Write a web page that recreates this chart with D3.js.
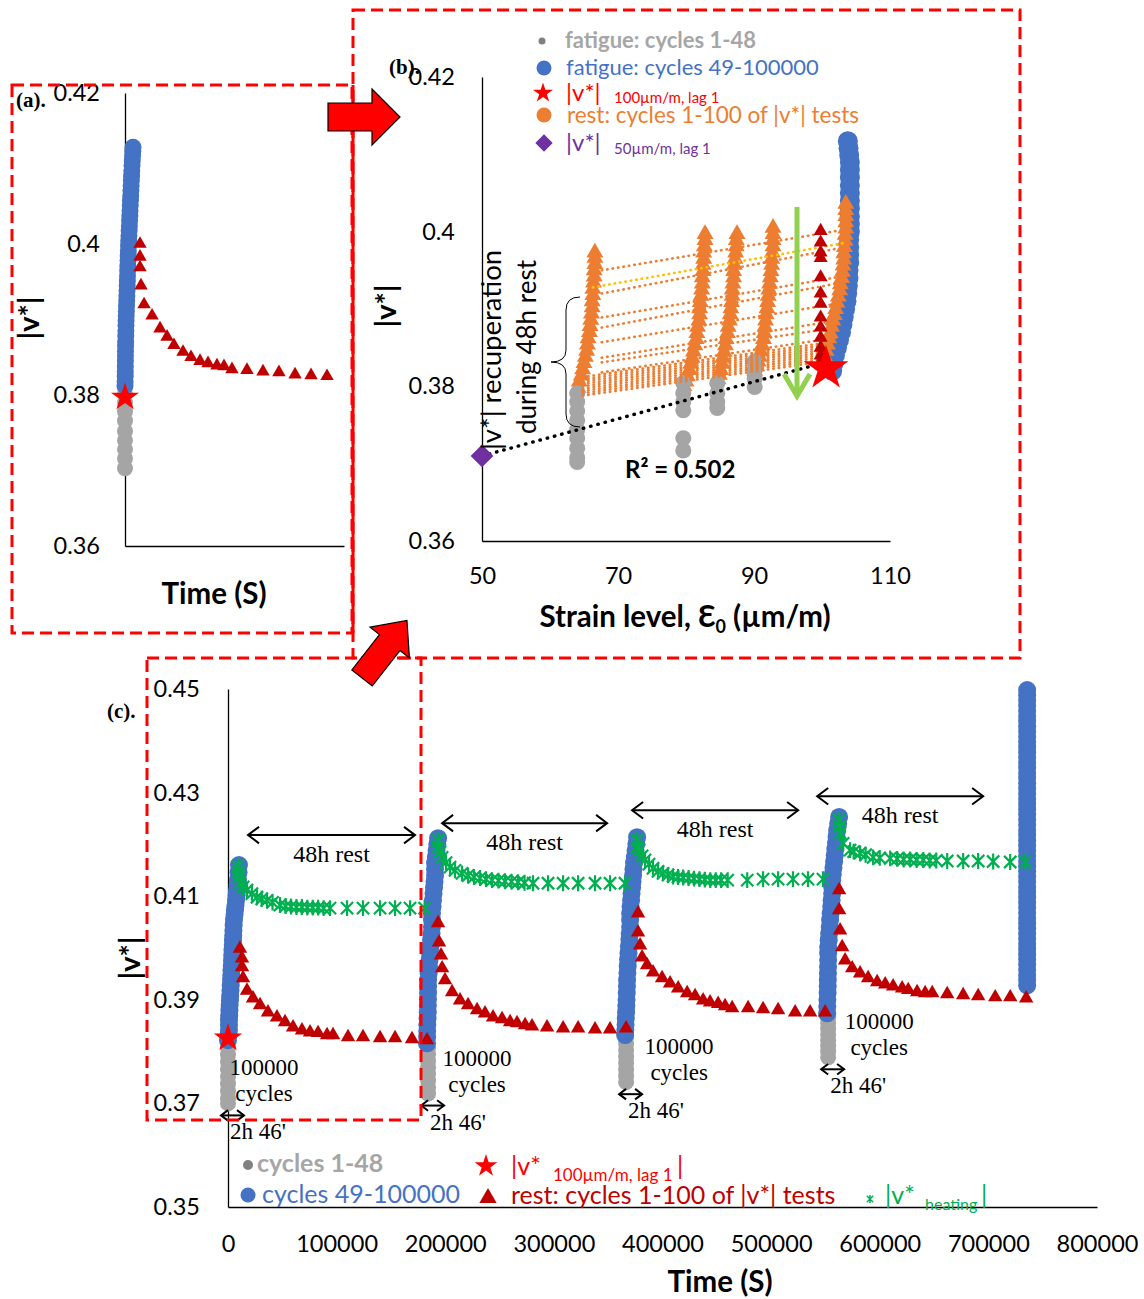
<!DOCTYPE html>
<html><head><meta charset="utf-8">
<script src="https://cdn.jsdelivr.net/npm/d3@7"></script>
<style>body{margin:0;background:#fff}svg{display:block}</style>
</head><body>
<svg id="fig" width="1144" height="1299"></svg>
<script>
// ================= DATA =================
// ---- Panel (a): zoom of first fatigue/rest cycle ----
const aTicksY = [0.36, 0.38, 0.40, 0.42];
const aTickLabelsY = ["0.36", "0.38", "0.4", "0.42"];
const aGray = [[0,0.3838],[0,0.3826],[0,0.3814],[0,0.3802],[0,0.3790],[0,0.3778],[0,0.3766],[0,0.3752],[0,0.3740],[0,0.3728],[0,0.3716],[0,0.3703]];
const aBlue = [[0,0.3812],[100,0.3818],[200,0.3825],[250,0.3831],[300,0.3838],[350,0.3845],[400,0.3852],[450,0.3858],[500,0.3865],[600,0.3871],[700,0.3878],[800,0.3885],[900,0.3892],[1000,0.3898],[1100,0.3905],[1250,0.3911],[1400,0.3918],[1550,0.3925],[1700,0.3931],[1850,0.3938],[2000,0.3945],[2150,0.3951],[2300,0.3958],[2450,0.3965],[2600,0.3971],[2750,0.3978],[2900,0.3984],[3050,0.3991],[3200,0.3998],[3400,0.4004],[3600,0.4011],[3800,0.4018],[4000,0.4024],[4200,0.4031],[4400,0.4037],[4600,0.4044],[4800,0.4051],[5000,0.4058],[5200,0.4064],[5400,0.4071],[5600,0.4077],[5800,0.4084],[6000,0.4090],[6200,0.4097],[6400,0.4104],[6650,0.4110],[6900,0.4117],[7100,0.4123],[7300,0.4128]];
const aStar = [[0,0.3797]];
const aRest = [[13700,0.4000],[13700,0.3983],[13700,0.3969],[14600,0.3945],[17400,0.3920],[24700,0.3905],[32000,0.3888],[38400,0.3877],[44700,0.3866],[53000,0.3857],[60300,0.3850],[68500,0.3845],[75800,0.3842],[84000,0.3839],[90400,0.3838],[97700,0.3834],[111400,0.3833],[126000,0.3831],[140600,0.3830],[155300,0.3827],[169900,0.3826],[184500,0.3825]];

// ---- Panel (b): |v*| versus strain level ----
const bTicksX = [50, 70, 90, 110];
const bTickLabelsX = ["50", "70", "90", "110"];
const bTicksY = [0.36, 0.38, 0.40, 0.42];
const bTickLabelsY = ["0.36", "0.38", "0.4", "0.42"];
const bGray = [[64,0.3791],[64,0.3780],[64,0.3768],[64,0.3756],[64,0.3744],[64,0.3733],[64,0.3720],[64,0.3708],[64,0.3702],
  [79.6,0.3804],[79.6,0.3791],[79.6,0.3780],[79.6,0.3769],[79.6,0.3733],[79.6,0.3717],
  [84.6,0.3804],[84.6,0.3791],[84.6,0.3780],[84.6,0.3772],
  [90.1,0.3832],[90.1,0.3821],[90.1,0.3810],[90.1,0.3799]];
const bBlue = [[103.8,0.4117],[103.9,0.4108],[104.0,0.4099],[104.1,0.4090],[104.1,0.4080],[104.1,0.4070],[104.1,0.4060],[104.1,0.4050],[104.1,0.4040],[104.1,0.4030],[104.1,0.4020],[104.1,0.4010],[104.1,0.4000],[104.0,0.3990],[104.0,0.3980],[104.0,0.3970],[104.0,0.3960],[103.9,0.3950],[103.9,0.3940],[103.8,0.3930],[103.7,0.3920],[103.6,0.3910],[103.4,0.3900],[103.2,0.3890],[103.0,0.3880],[102.8,0.3870],[102.5,0.3860],[102.2,0.3850],[101.9,0.3840],[101.7,0.3830],[101.5,0.3820]];
const bOrange1 = [[66.6,0.3973],[66.6,0.3966],[66.6,0.3958],[66.5,0.3950],[66.5,0.3942],[66.4,0.3934],[66.3,0.3926],[66.3,0.3918],[66.2,0.3910],[66.2,0.3902],[66.1,0.3894],[66.0,0.3886],[65.9,0.3878],[65.8,0.3870],[65.6,0.3862],[65.5,0.3854],[65.4,0.3846],[65.2,0.3838],[65.0,0.3830],[64.8,0.3822],[64.6,0.3814],[64.3,0.3806],[64.1,0.3798]];
const bOrange2 = [[82.8,0.3997],[82.8,0.3989],[82.7,0.3981],[82.6,0.3973],[82.6,0.3965],[82.5,0.3957],[82.5,0.3949],[82.4,0.3941],[82.4,0.3933],[82.3,0.3925],[82.2,0.3917],[82.1,0.3909],[82.0,0.3901],[82.0,0.3893],[81.9,0.3885],[81.7,0.3877],[81.6,0.3869],[81.5,0.3861],[81.3,0.3853],[81.1,0.3845],[80.9,0.3837],[80.7,0.3829],[80.5,0.3821],[80.2,0.3813],[80.0,0.3806],[79.7,0.3800]];
const bOrange3 = [[87.5,0.3997],[87.4,0.3989],[87.4,0.3981],[87.3,0.3973],[87.2,0.3965],[87.1,0.3957],[87.0,0.3949],[87.0,0.3941],[86.9,0.3933],[86.8,0.3925],[86.8,0.3917],[86.7,0.3909],[86.6,0.3901],[86.5,0.3893],[86.4,0.3885],[86.2,0.3877],[86.1,0.3869],[85.9,0.3861],[85.8,0.3853],[85.6,0.3845],[85.4,0.3837],[85.3,0.3829],[85.1,0.3821],[84.9,0.3815],[84.7,0.3809]];
const bOrange4 = [[92.8,0.4005],[92.8,0.3997],[92.8,0.3989],[92.8,0.3981],[92.7,0.3973],[92.6,0.3965],[92.6,0.3957],[92.5,0.3949],[92.4,0.3941],[92.3,0.3933],[92.2,0.3925],[92.1,0.3917],[92.0,0.3909],[91.9,0.3901],[91.8,0.3893],[91.7,0.3885],[91.6,0.3877],[91.5,0.3869],[91.4,0.3861],[91.2,0.3853],[91.0,0.3845],[90.8,0.3838],[90.6,0.3832],[90.4,0.3826],[90.1,0.3820]];
const bOrange5 = [[103.5,0.4036],[103.5,0.4028],[103.5,0.4020],[103.5,0.4012],[103.5,0.4004],[103.4,0.3996],[103.4,0.3988],[103.3,0.3980],[103.2,0.3972],[103.2,0.3964],[103.1,0.3956],[103.0,0.3948],[102.9,0.3940],[102.7,0.3932],[102.6,0.3924],[102.4,0.3916],[102.2,0.3908],[102.0,0.3900],[101.8,0.3892],[101.6,0.3885],[101.4,0.3877],[101.2,0.3869],[101.0,0.3862],[100.8,0.3854],[100.6,0.3846],[100.4,0.3838],[100.1,0.3830]];
const bRest = [[99.8,0.4001],[99.8,0.3986],[99.8,0.3973],[99.8,0.3966],[99.8,0.3941],[99.8,0.3920],[99.8,0.3907],[99.8,0.3889],[99.8,0.3876],[99.8,0.3863],[99.8,0.3850],[99.8,0.3840],[99.8,0.3832]];
const bStar = [[100.6,0.3823]];
const bDiamond = [[50,0.3710]];
const bTrend = [[50,0.3710],[100,0.3830]];
const bRestLineStrainUpper = [67.6, 102.2];
const bRestLinesUpper = [[0.3950,0.4001],[0.3920,0.3978],[0.3889,0.3941],[0.3876,0.3933],[0.3857,0.3907],[0.3837,0.3885],[0.3831,0.3876],[0.3818,0.3863]];
const bYellowLine = [[66.3,0.3928],[103.7,0.3986]];
const bRestLineStrainLower = [64.8, 100.3];
const bRestLinesLower = [[0.3812,0.3856],[0.3809,0.3853],[0.3806,0.3850],[0.3803,0.3847],[0.3800,0.3844],[0.3797,0.3841],[0.3794,0.3838],[0.3791,0.3835],[0.3788,0.3832]];
const bR2 = "R² = 0.502";

// ---- Panel (c): |v*| versus time, 4 fatigue cycles + rests ----
const cTicksX = [0,100000,200000,300000,400000,500000,600000,700000,800000];
const cTickLabelsX = ["0","100000","200000","300000","400000","500000","600000","700000","800000"];
const cTicksY = [0.35,0.37,0.39,0.41,0.43,0.45];
const cTickLabelsY = ["0.35","0.37","0.39","0.41","0.43","0.45"];
const cCycleStart = [0, 184200, 366500, 552500];
const cGray = [
  [0,0.3822],[0,0.3808],[0,0.3794],[0,0.3780],[0,0.3766],[0,0.3752],[0,0.3738],[0,0.3724],[0,0.3710],[0,0.3700],
  [184200,0.3808],[184200,0.3795],[184200,0.3782],[184200,0.3770],[184200,0.3757],[184200,0.3744],[184200,0.3731],[184200,0.3719],
  [366500,0.3828],[366500,0.3815],[366500,0.3803],[366500,0.3790],[366500,0.3778],[366500,0.3765],[366500,0.3753],[366500,0.3741],
  [552500,0.3866],[552500,0.3855],[552500,0.3844],[552500,0.3833],[552500,0.3822],[552500,0.3811],[552500,0.3800],[552500,0.3789]];
const cBlue1 = [[0,0.3822],[500,0.3832],[900,0.3842],[900,0.3852],[900,0.3861],[1100,0.3870],[1300,0.3880],[1500,0.3890],[1800,0.3899],[2000,0.3908],[2300,0.3918],[2500,0.3928],[2800,0.3938],[3000,0.3948],[3200,0.3957],[3500,0.3966],[3700,0.3976],[3900,0.3986],[4100,0.3996],[4400,0.4006],[4600,0.4015],[4800,0.4024],[5000,0.4034],[5200,0.4044],[5500,0.4054],[6000,0.4064],[6400,0.4073],[6900,0.4082],[7400,0.4092],[7900,0.4102],[8300,0.4112],[8800,0.4122],[9200,0.4131],[9700,0.4146],[10100,0.4160]];
const cBlue2 = [[183200,0.3816],[183300,0.3828],[183400,0.3840],[183500,0.3852],[183700,0.3864],[183900,0.3876],[184000,0.3889],[184100,0.3901],[184200,0.3913],[184200,0.3926],[184200,0.3938],[184700,0.3951],[185100,0.3964],[185500,0.3977],[186000,0.3990],[186400,0.4003],[186900,0.4016],[187400,0.4028],[187800,0.4041],[187800,0.4054],[187800,0.4067],[188300,0.4080],[188700,0.4092],[189200,0.4105],[189700,0.4117],[190100,0.4128],[190600,0.4140],[190600,0.4152],[190600,0.4164],[191300,0.4176],[192000,0.4188],[192700,0.4200],[193400,0.4212]];
const cBlue3 = [[365600,0.3832],[365800,0.3842],[366000,0.3852],[366200,0.3864],[366500,0.3876],[366700,0.3888],[366900,0.3900],[367100,0.3913],[367300,0.3926],[367400,0.3938],[367700,0.3952],[368000,0.3965],[368300,0.3978],[368700,0.3990],[369100,0.4003],[369500,0.4016],[369800,0.4028],[370200,0.4041],[370200,0.4054],[370200,0.4067],[370600,0.4080],[371100,0.4092],[371500,0.4105],[372000,0.4117],[372400,0.4128],[372900,0.4140],[373300,0.4152],[373800,0.4164],[374500,0.4176],[375200,0.4188],[375900,0.4201],[376600,0.4214]];
const cBlue4 = [[551600,0.3874],[551700,0.3887],[551800,0.3900],[552000,0.3913],[552100,0.3926],[552200,0.3938],[552300,0.3951],[552400,0.3964],[552500,0.3977],[552500,0.3990],[552500,0.4002],[553000,0.4015],[553400,0.4028],[553900,0.4041],[554300,0.4054],[554800,0.4067],[555300,0.4080],[555700,0.4092],[556200,0.4105],[556200,0.4118],[556200,0.4131],[556800,0.4143],[557400,0.4155],[558000,0.4167],[558600,0.4179],[559100,0.4191],[559700,0.4203],[560200,0.4215],[560800,0.4227],[561700,0.4240],[562600,0.4253]];
const cBlueFinal = [[735700,0.3928],[735700,0.3938],[735700,0.3948],[735700,0.3958],[735700,0.3968],[735700,0.3978],[735700,0.3988],[735700,0.3998],[735700,0.4008],[735700,0.4018],[735700,0.4028],[735700,0.4038],[735700,0.4048],[735700,0.4058],[735700,0.4068],[735700,0.4078],[735700,0.4088],[735700,0.4098],[735700,0.4108],[735700,0.4118],[735700,0.4128],[735700,0.4138],[735700,0.4148],[735700,0.4158],[735700,0.4168],[735700,0.4178],[735700,0.4188],[735700,0.4198],[735700,0.4208],[735700,0.4218],[735700,0.4228],[735700,0.4238],[735700,0.4248],[735700,0.4258],[735700,0.4268],[735700,0.4278],[735700,0.4288],[735700,0.4298],[735700,0.4308],[735700,0.4318],[735700,0.4328],[735700,0.4338],[735700,0.4348],[735700,0.4358],[735700,0.4368],[735700,0.4378],[735700,0.4388],[735700,0.4398],[735700,0.4408],[735700,0.4418],[735700,0.4428],[735700,0.4438],[735700,0.4448],[735700,0.4458],[735700,0.4468],[735700,0.4478],[735700,0.4488],[735700,0.4498]];
const cRest = [
  [11000,0.3999],[12900,0.3980],[12900,0.3963],[13800,0.3942],[17500,0.3918],[23000,0.3903],[29500,0.3890],[36800,0.3876],[45100,0.3866],[52500,0.3857],[59900,0.3847],[68100,0.3841],[75500,0.3837],[82900,0.3836],[91200,0.3832],[96700,0.3832],[110500,0.3828],[124300,0.3828],[140000,0.3826],[153800,0.3826],[169400,0.3824],[183200,0.3822],
  [193400,0.4048],[194300,0.4011],[196100,0.3986],[197100,0.3961],[199800,0.3938],[206300,0.3915],[213600,0.3899],[221000,0.3890],[229300,0.3880],[236600,0.3874],[244000,0.3866],[252300,0.3863],[259700,0.3857],[266100,0.3855],[273500,0.3851],[279900,0.3849],[293700,0.3847],[308500,0.3845],[322300,0.3845],[337900,0.3843],[351700,0.3843],[366500,0.3845],
  [377500,0.4067],[377500,0.4030],[379400,0.4005],[381200,0.3982],[385800,0.3967],[391300,0.3953],[399600,0.3942],[407000,0.3932],[414400,0.3922],[422700,0.3913],[430000,0.3907],[437400,0.3899],[443800,0.3895],[451200,0.3892],[457600,0.3888],[464100,0.3884],[478800,0.3884],[492600,0.3882],[506400,0.3880],[522100,0.3876],[535900,0.3876],[549700,0.3876],
  [562600,0.4112],[562600,0.4073],[563500,0.4034],[565400,0.4002],[568100,0.3976],[574600,0.3961],[581900,0.3951],[589300,0.3942],[597600,0.3934],[605000,0.3930],[612300,0.3926],[620600,0.3922],[626200,0.3919],[634400,0.3915],[641800,0.3913],[648300,0.3913],[662100,0.3911],[676800,0.3909],[690600,0.3907],[706300,0.3905],[720100,0.3905],[734800,0.3903]];
const cHeat = [
  [9200,0.4158],[9600,0.4148],[10100,0.4138],[11000,0.4125],[14000,0.4118],[17500,0.4112],[22000,0.4105],[26700,0.4098],[31000,0.4095],[35900,0.4092],[41000,0.4088],[47900,0.4083],[53000,0.4081],[58000,0.4080],[63000,0.4079],[68000,0.4079],[73000,0.4078],[78000,0.4078],[83000,0.4078],[88000,0.4077],[93900,0.4077],[109600,0.4077],[124300,0.4077],[140000,0.4077],[153800,0.4077],[167600,0.4077],[181000,0.4077],
  [193400,0.4208],[193400,0.4195],[195200,0.4185],[197100,0.4175],[200700,0.4165],[204400,0.4156],[209000,0.4150],[215400,0.4144],[221000,0.4140],[226500,0.4137],[232000,0.4135],[237500,0.4133],[243000,0.4131],[249000,0.4130],[255000,0.4129],[261000,0.4128],[267000,0.4127],[273000,0.4126],[280800,0.4125],[294600,0.4125],[308500,0.4125],[322300,0.4125],[337900,0.4125],[351700,0.4125],[365500,0.4125],
  [376600,0.4208],[376600,0.4195],[378500,0.4189],[381200,0.4178],[383900,0.4170],[387600,0.4162],[391300,0.4154],[395900,0.4148],[400500,0.4144],[405100,0.4141],[409700,0.4138],[414300,0.4137],[419000,0.4136],[424000,0.4135],[429000,0.4134],[434000,0.4133],[439000,0.4132],[444000,0.4131],[449000,0.4131],[454000,0.4131],[460000,0.4131],[478000,0.4131],[492600,0.4133],[506400,0.4133],[520100,0.4133],[533900,0.4133],[547700,0.4133],
  [562600,0.4247],[562600,0.4235],[563500,0.4222],[566300,0.4202],[572700,0.4189],[576000,0.4186],[581900,0.4183],[587000,0.4180],[593900,0.4175],[600000,0.4174],[609600,0.4173],[616000,0.4172],[622000,0.4171],[628000,0.4171],[634000,0.4170],[640000,0.4170],[646000,0.4169],[652000,0.4169],[662100,0.4168],[676800,0.4168],[690600,0.4168],[704400,0.4167],[720100,0.4166],[733900,0.4166]];
const cStar = [[0,0.3826]];
const cRestSpans = [[18400,172200,0.4218],[197100,349000,0.4241],[372000,524900,0.4266],[542400,695200,0.4293]];

// ================= DRAWING =================
const SANS = "Lato, 'Open Sans', sans-serif";
const SERIF = "'Liberation Serif', 'Times New Roman', serif";
const BLUE = "#4472c4", GRAY = "#a5a5a5", ORANGE = "#ed7d31", DRED = "#c00000", RED = "#ff0000", GREEN = "#00b050", PURPLE = "#7030a0";
const svg = d3.select("#fig");
svg.append("rect").attr("width",1144).attr("height",1299).attr("fill","#fff");

const symAsterisk = { draw(ctx, size) { const s = Math.sqrt(size)/2; ctx.moveTo(-s,-s); ctx.lineTo(s,s); ctx.moveTo(-s,s); ctx.lineTo(s,-s); ctx.moveTo(0,-s*1.3); ctx.lineTo(0,s*1.3); } };
const symDiamondSq = { draw(ctx, size) { const s = Math.sqrt(size)/Math.SQRT2; ctx.moveTo(0,-s); ctx.lineTo(s,0); ctx.lineTo(0,s); ctx.lineTo(-s,0); ctx.closePath(); } };

function marks(g, data, xs, ys, type, size, fill, stroke, sw) {
  g.append("g").selectAll("path").data(data).join("path")
    .attr("transform", d => `translate(${xs(d[0])},${ys(d[1])})`)
    .attr("d", d3.symbol().type(type).size(size)())
    .attr("fill", fill).attr("stroke", stroke || "none").attr("stroke-width", sw || 0);
}
function dots(g, data, xs, ys, r, fill, stroke, sw) {
  g.append("g").selectAll("circle").data(data).join("circle")
    .attr("cx", d => xs(d[0])).attr("cy", d => ys(d[1])).attr("r", r)
    .attr("fill", fill).attr("stroke", stroke || "none").attr("stroke-width", sw || 0);
}
function styleAxis(g, size) {
  g.select(".domain").attr("stroke","#000").attr("stroke-width",1.3);
  g.selectAll("text").attr("font-family",SANS).attr("font-size",size).attr("fill","#000");
}
function txt(x, y, s, o) {
  const t = svg.append("text").attr("x",x).attr("y",y).text(s)
    .attr("font-family", o.ff || SANS).attr("font-size", o.fs || 22).attr("fill", o.fill || "#000");
  if (o.fw) t.attr("font-weight", o.fw);
  if (o.anchor) t.attr("text-anchor", o.anchor);
  return t;
}
function vlabel(x, y, s, fs) {
  svg.append("text").attr("transform",`translate(${x},${y}) rotate(-90)`).attr("text-anchor","middle").attr("dy","0.35em")
    .attr("font-family",SANS).attr("font-weight","bold").attr("font-size",fs).text(s);
}
function dblArrow(x1, x2, y, head, sw) {
  const g = svg.append("g").attr("stroke","#000").attr("stroke-width",sw).attr("fill","none");
  g.append("line").attr("x1",x1).attr("x2",x2).attr("y1",y).attr("y2",y);
  g.append("polyline").attr("points",`${x1+head},${y-head*0.75} ${x1},${y} ${x1+head},${y+head*0.75}`);
  g.append("polyline").attr("points",`${x2-head},${y-head*0.75} ${x2},${y} ${x2-head},${y+head*0.75}`);
}

// ---------- Panel (a) ----------
const xA = d3.scaleLinear().domain([0,200000]).range([125,344]);
const yA = d3.scaleLinear().domain([0.36,0.42]).range([546,93]);
const gA = svg.append("g");
gA.append("g").attr("transform","translate(125,0)")
  .call(d3.axisLeft(yA).tickValues(aTicksY).tickSize(0).tickSizeOuter(0).tickPadding(25).tickFormat((d,i)=>aTickLabelsY[i]))
  .call(g => styleAxis(g, 23.5));
gA.append("g").attr("transform","translate(0,546)")
  .call(d3.axisBottom(xA).tickValues([]).tickSizeOuter(0))
  .call(g => styleAxis(g, 23));
dots(gA, aGray, xA, yA, 8, GRAY);
dots(gA, aBlue, xA, yA, 8.5, BLUE);
marks(gA, aRest, xA, yA, d3.symbolTriangle, 78, DRED);
marks(gA, aStar, xA, yA, d3.symbolStar, 243, RED);
vlabel(29, 318, "|v*|", 29);
txt(214, 604, "Time (S)", {fw:"bold", fs:29.5, anchor:"middle"});
txt(16, 107, "(a).", {ff:SERIF, fw:"bold", fs:21});

// ---------- Panel (b) ----------
const xB = d3.scaleLinear().domain([50,110]).range([482,890]);
const yB = d3.scaleLinear().domain([0.36,0.42]).range([541,77]);
const gB = svg.append("g");
gB.append("g").attr("transform","translate(482,0)")
  .call(d3.axisLeft(yB).tickValues(bTicksY).tickSize(0).tickSizeOuter(0).tickPadding(27).tickFormat((d,i)=>bTickLabelsY[i]))
  .call(g => styleAxis(g, 23.5));
gB.append("g").attr("transform","translate(0,541)")
  .call(d3.axisBottom(xB).tickValues(bTicksX).tickSize(0).tickSizeOuter(0).tickPadding(26).tickFormat((d,i)=>bTickLabelsX[i]))
  .call(g => styleAxis(g, 23.5));
const lineB = d3.line().x(d => xB(d[0])).y(d => yB(d[1]));
dots(gB, bBlue, xB, yB, 10, BLUE);
[bOrange1,bOrange2,bOrange3,bOrange4,bOrange5].forEach(col => marks(gB, col, xB, yB, d3.symbolTriangle, 125, ORANGE));
dots(gB, bGray, xB, yB, 8, GRAY);
const gLines = gB.append("g").attr("fill","none").attr("stroke-linecap","round");
bRestLinesUpper.forEach(v => gLines.append("path").attr("d", lineB([[bRestLineStrainUpper[0],v[0]],[bRestLineStrainUpper[1],v[1]]]))
  .attr("stroke",ORANGE).attr("stroke-width",2.6).attr("stroke-dasharray","0.5 5"));
bRestLinesLower.forEach(v => gLines.append("path").attr("d", lineB([[bRestLineStrainLower[0],v[0]],[bRestLineStrainLower[1],v[1]]]))
  .attr("stroke",ORANGE).attr("stroke-width",2.6).attr("stroke-dasharray","0.5 5"));
gLines.append("path").attr("d", lineB(bYellowLine)).attr("stroke","#ffc000").attr("stroke-width",2.6).attr("stroke-dasharray","0.5 5");
gLines.append("path").attr("d", lineB(bTrend)).attr("stroke","#000").attr("stroke-width",3.4).attr("stroke-dasharray","0.5 7");
marks(gB, bRest, xB, yB, d3.symbolTriangle, 85, DRED);
marks(gB, bStar, xB, yB, d3.symbolStar, 620, RED);
marks(gB, bDiamond, xB, yB, symDiamondSq, 260, PURPLE);
// green arrow
svg.append("line").attr("x1",797).attr("x2",797).attr("y1",207).attr("y2",392).attr("stroke","#92d050").attr("stroke-width",5);
svg.append("polyline").attr("points","784,374 797,396 810,374").attr("fill","none").attr("stroke","#92d050").attr("stroke-width",5).attr("stroke-linejoin","miter");
// brace
svg.append("path").attr("d","M580,297 Q566,297 566,310 L566,350 Q566,362 551,362 Q566,362 566,374 L566,414 Q566,427 580,427")
  .attr("fill","none").attr("stroke","#000").attr("stroke-width",1);
svg.append("text").attr("transform","translate(501,350) rotate(-90)").attr("text-anchor","middle")
  .attr("font-family",SANS).attr("font-size",27.5).text("|v*| recuperation");
svg.append("text").attr("transform","translate(536,347) rotate(-90)").attr("text-anchor","middle")
  .attr("font-family",SANS).attr("font-size",26).text("during 48h rest");
txt(625, 478, bR2, {fw:"bold", fs:24});
vlabel(386, 306, "|v*|", 29);
{
  const t = txt(685, 627, "Strain level, Ɛ", {fw:"bold", fs:29.5, anchor:"middle"});
  t.append("tspan").attr("font-size",18).attr("dy",6).text("0");
  t.append("tspan").attr("dy",-6).text(" (µm/m)");
}
txt(389, 74, "(b).", {ff:SERIF, fw:"bold", fs:21});
// legend (b)
svg.append("circle").attr("cx",542).attr("cy",41).attr("r",3.5).attr("fill","#808080");
txt(565, 48, "fatigue: cycles 1-48", {fw:"bold", fs:22, fill:"#a6a6a6"});
svg.append("circle").attr("cx",544).attr("cy",68).attr("r",7.5).attr("fill",BLUE);
txt(566, 75, "fatigue: cycles 49-100000", {fs:22, fill:BLUE});
svg.append("path").attr("transform","translate(543,93)").attr("d",d3.symbol().type(d3.symbolStar).size(124)()).attr("fill",RED);
txt(566, 101, "|v*|", {fs:24, fill:RED});
txt(614, 103, "100µm/m, lag 1", {fs:15, fill:RED});
svg.append("circle").attr("cx",544).attr("cy",115).attr("r",7.5).attr("fill",ORANGE);
txt(567, 123, "rest: cycles 1-100 of |v*| tests", {fs:22.5, fill:ORANGE});
svg.append("path").attr("transform","translate(544,143)").attr("d",d3.symbol().type(symDiamondSq).size(150)()).attr("fill",PURPLE);
txt(566, 151, "|v*|", {fs:24, fill:PURPLE});
txt(614, 154, "50µm/m, lag 1", {fs:15, fill:PURPLE});

// ---------- Panel (c) ----------
const xC = d3.scaleLinear().domain([0,800000]).range([228,1097]);
const yC = d3.scaleLinear().domain([0.35,0.45]).range([1207,689]);
const gC = svg.append("g");
gC.append("g").attr("transform","translate(228,0)")
  .call(d3.axisLeft(yC).tickValues(cTicksY).tickSize(0).tickSizeOuter(0).tickPadding(28).tickFormat((d,i)=>cTickLabelsY[i]))
  .call(g => styleAxis(g, 23.5));
gC.append("g").attr("transform","translate(0,1207)")
  .call(d3.axisBottom(xC).tickValues(cTicksX).tickSize(0).tickSizeOuter(0).tickPadding(28).tickFormat((d,i)=>cTickLabelsX[i]))
  .call(g => styleAxis(g, 23.5));
dots(gC, cGray, xC, yC, 8, GRAY);
[cBlue1, cBlue2, cBlue3, cBlue4, cBlueFinal].forEach(s => dots(gC, s, xC, yC, 9, BLUE));
marks(gC, cRest, xC, yC, d3.symbolTriangle, 90, DRED);
marks(gC, cHeat, xC, yC, symAsterisk, 150, "none", GREEN, 2.2);
marks(gC, cStar, xC, yC, d3.symbolStar, 250, RED);
vlabel(130, 958, "|v*|", 29);
txt(720, 1292, "Time (S)", {fw:"bold", fs:29.5, anchor:"middle"});
txt(107, 718, "(c).", {ff:SERIF, fw:"bold", fs:21});
// rest spans
cRestSpans.forEach(s => {
  const x1 = xC(s[0]), x2 = xC(s[1]), y = yC(s[2]);
  dblArrow(x1, x2, y, 11, 2);
  txt((x1+x2)/2, y+27, "48h rest", {ff:SERIF, fs:24, anchor:"middle"});
});
// cycle notes
const noteDx = [2, 15, 19, 17];
cCycleStart.forEach((t, i) => {
  const pts = cGray.filter(d => d[0] === t);
  const yb = yC(d3.min(pts, d => d[1]));
  const x0 = xC(t);
  const cx = x0 + noteDx[i] + 34;
  txt(cx, yb - 28, "100000", {ff:SERIF, fs:23, anchor:"middle"});
  txt(cx, yb - 2, "cycles", {ff:SERIF, fs:23, anchor:"middle"});
  dblArrow(x0 - 7, x0 + 16, yb + 12, 7, 2);
  txt(x0 + 2, yb + 36, "2h 46'", {ff:SERIF, fs:23});
});
// legend (c)
svg.append("circle").attr("cx",248).attr("cy",1165).attr("r",5).attr("fill","#808080");
txt(257, 1172, "cycles 1-48", {fw:"bold", fs:25, fill:"#a6a6a6"});
svg.append("circle").attr("cx",248).attr("cy",1195).attr("r",7.5).attr("fill",BLUE);
txt(262, 1203, "cycles 49-100000", {fs:25, fill:BLUE});
svg.append("path").attr("transform","translate(486,1166)").attr("d",d3.symbol().type(d3.symbolStar).size(160)()).attr("fill",RED);
txt(511, 1175, "|v*", {fs:25, fill:RED});
txt(553, 1181, "100µm/m, lag 1", {fs:17, fill:RED});
txt(677, 1175, "|", {fs:25, fill:RED});
svg.append("path").attr("transform","translate(488,1198)").attr("d",d3.symbol().type(d3.symbolTriangle).size(130)()).attr("fill",DRED);
txt(511, 1204, "rest: cycles 1-100 of |v*| tests", {fs:25, fill:DRED});
svg.append("path").attr("transform","translate(870,1199)").attr("d",d3.symbol().type(symAsterisk).size(40)()).attr("fill","none").attr("stroke",GREEN).attr("stroke-width",1.5);
txt(885, 1204, "|v*", {fs:25, fill:GREEN});
txt(925, 1210, "heating", {fs:16, fill:GREEN});
txt(981, 1204, "|", {fs:25, fill:GREEN});

// ---------- Frames and block arrows ----------
const frames = svg.append("g").attr("fill","none").attr("stroke",RED).attr("stroke-width",3).attr("stroke-dasharray","12 6");
frames.append("rect").attr("x",12).attr("y",85).attr("width",340).attr("height",548);
frames.append("rect").attr("x",353).attr("y",10).attr("width",667).attr("height",648);
frames.append("rect").attr("x",147).attr("y",658).attr("width",274).attr("height",462);
svg.append("line").attr("x1",353).attr("x2",353).attr("y1",85).attr("y2",633).attr("stroke",RED).attr("stroke-width",3);
svg.append("polygon").attr("points","328,103 372,103 372,89 400,117 372,145 372,131 328,131")
  .attr("fill",RED).attr("stroke","#000").attr("stroke-width",1.2);
svg.append("polygon").attr("transform","translate(362,678) rotate(-52)").attr("points","0,-13 45,-13 45,-25 73,0 45,25 45,13 0,13")
  .attr("fill",RED).attr("stroke","#000").attr("stroke-width",1.2);
</script>
</body></html>
